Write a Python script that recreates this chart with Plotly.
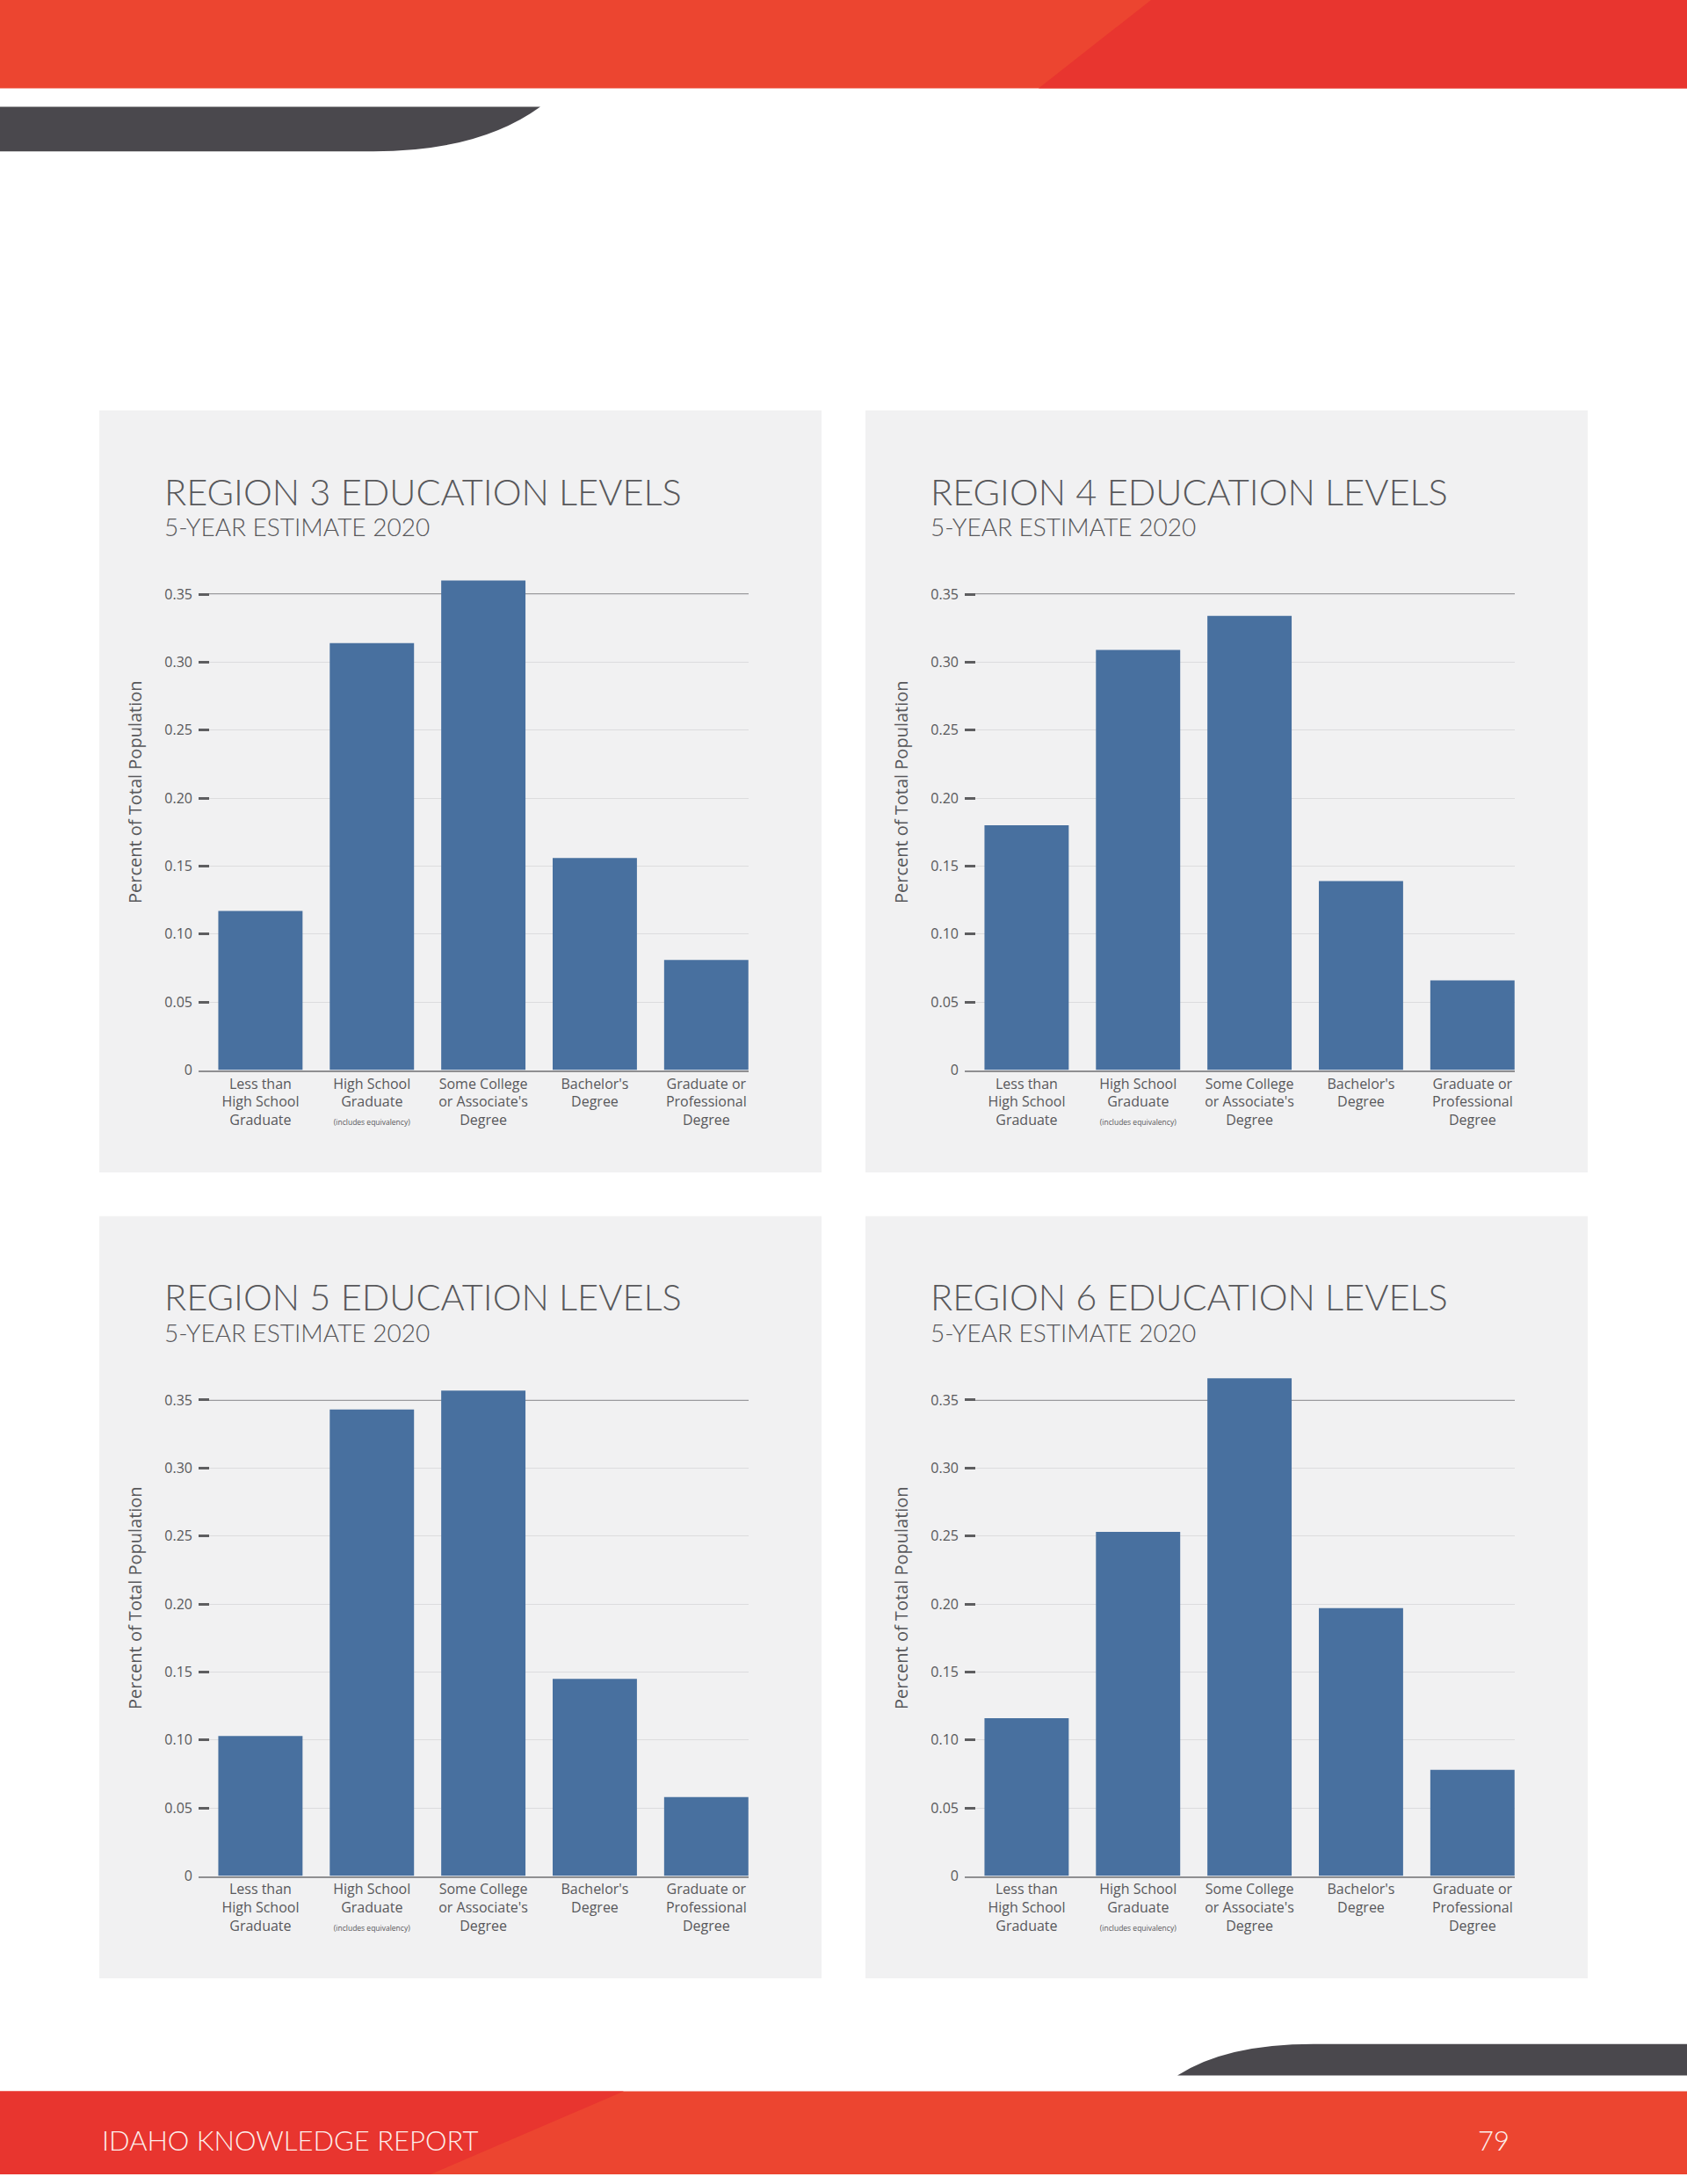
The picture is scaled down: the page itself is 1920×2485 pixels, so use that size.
import plotly.graph_objects as go

# page size in px
W, H = 1920, 2485

categories = [
    "Less than<br>High School<br>Graduate",
    "High School<br>Graduate<br><span style='font-size:8.5px'>(includes equivalency)</span>",
    "Some College<br>or Associate's<br>Degree",
    "Bachelor's<br>Degree",
    "Graduate or<br>Professional<br>Degree",
]

region3 = [0.117, 0.314, 0.360, 0.156, 0.081]
region4 = [0.180, 0.309, 0.334, 0.139, 0.066]
region5 = [0.103, 0.343, 0.357, 0.145, 0.058]
region6 = [0.116, 0.253, 0.366, 0.197, 0.078]

titles = ["REGION 3 EDUCATION LEVELS", "REGION 4 EDUCATION LEVELS",
          "REGION 5 EDUCATION LEVELS", "REGION 6 EDUCATION LEVELS"]
subtitle = "5-YEAR ESTIMATE 2020"
y_title = "Percent of Total Population"
y_ticks = [0, 0.05, 0.10, 0.15, 0.20, 0.25, 0.30, 0.35]
y_ticktext = ["0", "0.05", "0.10", "0.15", "0.20", "0.25", "0.30", "0.35"]

BAR = "#48709f"
PANEL = "#f1f1f2"
RED = "#ec4530"
RED_DARK = "#e8352f"
DARK = "#4a484d"
TEXT = "#58585b"


def fx(px):
    return px / W


def fy(py):
    return 1 - py / H


fig = go.Figure()

# panel offsets (px): left/top of each panel
panels = [(113, 469), (985, 469), (113, 1390), (985, 1390)]
series = [region3, region4, region5, region6]

shapes = []
annotations = []

for i, ((px0, py0), vals) in enumerate(zip(panels, series)):
    n = "" if i == 0 else str(i + 1)
    fig.add_trace(go.Bar(
        x=categories, y=vals, marker_color=BAR, marker_line_width=0,
        xaxis="x" + n, yaxis="y" + n, showlegend=False, width=0.756,
    ))

    # plot area in px
    left, right = px0 + 113, px0 + 739
    bottom = py0 + 754
    top = bottom - 575

    fig.layout["xaxis" + n] = dict(
        domain=[fx(left), fx(right)], anchor="y" + n,
        type="category", range=[-0.555, 4.38],
        showgrid=False, showline=True, linecolor="#8f8f91", linewidth=1.5,
        ticks="", ticklabelstandoff=0,
        tickfont=dict(family="Open Sans", size=16, color=TEXT),
        fixedrange=True,
    )
    fig.layout["yaxis" + n] = dict(
        domain=[fy(bottom), fy(top)], anchor="x" + n,
        range=[0, 0.37], tickvals=y_ticks, ticktext=y_ticktext,
        showgrid=True, gridcolor="#dcdcde", gridwidth=1, zeroline=False,
        ticks="inside", ticklen=12, tickwidth=2.5, tickcolor="#5e5e60",
        ticklabelstandoff=6,
        tickfont=dict(family="Open Sans", size=16, color=TEXT),
        fixedrange=True,
    )

    annotations.append(dict(text=y_title, xref="paper", yref="paper",
                            x=fx(px0 + 41), y=fy(py0 + 436), textangle=-90,
                            xanchor="center", yanchor="middle", showarrow=False,
                            font=dict(family="Open Sans", size=20, color=TEXT)))

    # panel background
    shapes.append(dict(type="rect", xref="paper", yref="paper",
                       x0=fx(px0), x1=fx(px0 + 822), y0=fy(py0 + 871), y1=fy(py0),
                       fillcolor=PANEL, line_width=0, layer="below"))
    # darker top reference line at 0.35
    shapes.append(dict(type="line", xref="x" + n + " domain", yref="y" + n,
                       x0=0, x1=1, y0=0.35, y1=0.35,
                       line=dict(color="#7d7d80", width=1.5), layer="below"))

    annotations.append(dict(text=titles[i], xref="paper", yref="paper",
                            x=fx(px0 + 72), y=fy(py0 + 92), xanchor="left", yanchor="middle",
                            showarrow=False,
                            font=dict(family="Lato", size=41.5, color=TEXT, weight=300)))
    annotations.append(dict(text=subtitle, xref="paper", yref="paper",
                            x=fx(px0 + 72), y=fy(py0 + 133), xanchor="left", yanchor="middle",
                            showarrow=False,
                            font=dict(family="Lato", size=28, color=TEXT, weight=300)))


def svg(pts):
    s = ""
    for cmd, coords in pts:
        s += cmd
        s += " ".join("%.5f,%.5f" % (fx(a), fy(b)) for a, b in coords) + " "
    return s + "Z"


# header band
shapes.append(dict(type="rect", xref="paper", yref="paper", x0=0, x1=1, y0=fy(101), y1=1,
                   fillcolor=RED, line_width=0, layer="below"))
shapes.append(dict(type="path", xref="paper", yref="paper", fillcolor=RED_DARK, line_width=0,
                   layer="below",
                   path=svg([("M", [(1310, 0)]), ("L", [(1920, 0)]), ("L", [(1920, 101)]),
                             ("L", [(1182, 101)])])))
shapes.append(dict(type="path", xref="paper", yref="paper", fillcolor=DARK, line_width=0,
                   layer="below",
                   path=svg([("M", [(0, 122)]), ("L", [(615, 122)]),
                             ("Q", [(545, 173), (425, 173)]), ("L", [(0, 173)])])))

# footer band
shapes.append(dict(type="path", xref="paper", yref="paper", fillcolor=DARK, line_width=0,
                   layer="below",
                   path=svg([("M", [(1340, 2372)]), ("Q", [(1395, 2336), (1495, 2336)]),
                             ("L", [(1920, 2336)]), ("L", [(1920, 2372)])])))
shapes.append(dict(type="rect", xref="paper", yref="paper", x0=0, x1=1, y0=0, y1=fy(2390),
                   fillcolor=RED, line_width=0, layer="below"))
shapes.append(dict(type="path", xref="paper", yref="paper", fillcolor=RED_DARK, line_width=0,
                   layer="below",
                   path=svg([("M", [(0, 2390)]), ("L", [(710, 2390)]), ("L", [(490, 2485)]),
                             ("L", [(0, 2485)])])))

annotations.append(dict(text="IDAHO KNOWLEDGE REPORT", xref="paper", yref="paper",
                        x=fx(114), y=fy(2446), xanchor="left", yanchor="middle", showarrow=False,
                        font=dict(family="Lato", size=31, color="#fdeeea", weight=300)))
annotations.append(dict(text="79", xref="paper", yref="paper",
                        x=fx(1700), y=fy(2446), xanchor="center", yanchor="middle", showarrow=False,
                        font=dict(family="Lato", size=31, color="#fdeeea", weight=300)))

fig.update_layout(
    width=W, height=H,
    margin=dict(l=0, r=0, t=0, b=0),
    paper_bgcolor="white", plot_bgcolor="rgba(0,0,0,0)",
    bargap=0.245,
    shapes=shapes, annotations=annotations,
    showlegend=False,
)

# drop the default page margin so the figure lines up with the window
fig.write_html("out.html", config={"displayModeBar": False},
               post_script="document.body.style.margin='0';")
